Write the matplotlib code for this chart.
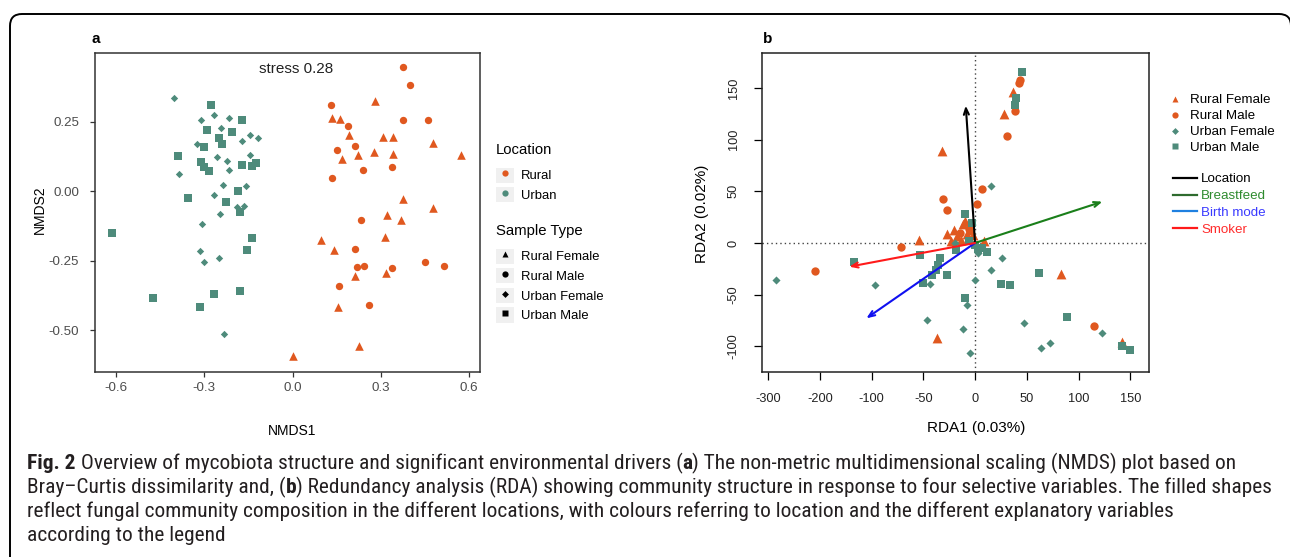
import numpy as np
import matplotlib
matplotlib.use("Agg")
import matplotlib.pyplot as plt
from matplotlib import font_manager
from matplotlib.lines import Line2D
from matplotlib.patches import Rectangle, FancyBboxPatch
from matplotlib.legend_handler import HandlerTuple
from matplotlib.transforms import IdentityTransform

RURAL = "#E0581F"
URBAN = "#4E8B7B"
FONT = "Liberation Sans"

# ---- panel a: NMDS ----
nmds_rf_x = [0.282, 0.134, 0.162, 0.191, 0.308, 0.340, 0.476, 0.221, 0.278, 0.340, 0.169, 0.573,
             0.377, 0.476, 0.320, 0.370, 0.096, 0.140, 0.314, 0.211, 0.317, 0.154, 0.225, 0.003]
nmds_rf_y = [0.325, 0.263, 0.261, 0.201, 0.196, 0.195, 0.174, 0.132, 0.143, 0.133, 0.117, 0.129,
             -0.028, -0.060, -0.085, -0.103, -0.175, -0.212, -0.166, -0.304, -0.296, -0.418, -0.558, -0.593]
nmds_rm_x = [0.374, 0.398, 0.130, 0.189, 0.377, 0.461, 0.212, 0.152, 0.338, 0.240,
             0.134, 0.232, 0.212, 0.220, 0.244, 0.338, 0.451, 0.516, 0.157, 0.259]
nmds_rm_y = [0.448, 0.382, 0.310, 0.236, 0.257, 0.257, 0.162, 0.149, 0.089, 0.078,
             0.048, -0.105, -0.207, -0.273, -0.268, -0.275, -0.255, -0.270, -0.341, -0.410]
nmds_uf_x = [-0.404, -0.310, -0.268, -0.217, -0.243, -0.325, -0.171, -0.144, -0.119, -0.257, -0.223,
             -0.144, -0.217, -0.386, -0.237, -0.268, -0.157, -0.246, -0.189, -0.164, -0.308, -0.314,
             -0.300, -0.251, -0.234]
nmds_uf_y = [0.337, 0.257, 0.276, 0.263, 0.227, 0.171, 0.181, 0.203, 0.191, 0.124, 0.109,
             0.131, 0.078, 0.063, 0.023, -0.013, 0.019, -0.082, -0.058, -0.054, -0.119, -0.216,
             -0.256, -0.239, -0.513]
nmds_um_x = [-0.277, -0.171, -0.291, -0.206, -0.250, -0.239, -0.302, -0.390, -0.310, -0.300, -0.284,
             -0.173, -0.139, -0.126, -0.356, -0.187, -0.225, -0.178, -0.137, -0.154, -0.614, -0.476,
             -0.266, -0.180, -0.316]
nmds_um_y = [0.311, 0.258, 0.220, 0.214, 0.191, 0.171, 0.161, 0.127, 0.105, 0.087, 0.072,
             0.096, 0.091, 0.103, -0.024, 0.001, -0.040, -0.073, -0.169, -0.213, -0.149, -0.385,
             -0.369, -0.359, -0.418]
nmds_xticks = [-0.6, -0.3, 0.0, 0.3, 0.6]
nmds_yticks = [0.25, 0.00, -0.25, -0.50]

# ---- panel b: RDA ----
rda_rf_x = [-32, -37, -54, 9, 28, 37, 83, 142, -20, -12, -5, -23, -14, -8, -17, -2, -27, -10]
rda_rf_y = [89, -92, 3, 2, 125, 146, -30, -96, 13, 18, 13, 2, 3, 9, 7, 8, 9, 21]
rda_rm_x = [-210, -72, -31, -27, 7, 2, 31, 39, 42, 43, 115, -15, -6]
rda_rm_y = [-27, -4, 43, 32, 52, 38, 104, 128, 155, 158, -80, 10, 14]
rda_uf_x = [-284, -97, -46, -12, -5, -8, 0, 15, 15, 26, 47, 64, 72, 123, 3, -19, -44]
rda_uf_y = [-36, -41, -75, -83, -107, -60, -36, 55, -26, -15, -78, -102, -97, -87, -10, 0, -40]
rda_um_x = [-133, -53, -50, -42, -38, -36, -34, -27, -10, -3, -18, -6, 0, 3, 7, 12, -10,
            45, 39, 40, 62, 25, 34, 89, 142, 150]
rda_um_y = [-18, -12, -39, -31, -26, -21, -15, -31, 28, 19, -7, 2, -2, -6, -5, -9, -53,
            166, 134, 140, -29, -40, -41, -72, -100, -104]
arrow_names = ["Location", "Breastfeed", "Birth mode", "Smoker"]
arrow_x = [-9, 123, -110, -143]
arrow_y = [133, 40, -73, -23]
arrow_colors = ["#000000", "#1A7F1A", "#1010F0", "#FF1A1A"]
legend_line_colors = ["#000000", "#2E6B2E", "#1F80E0", "#FF1A1A"]
legend_text_colors = ["#000000", "#2E8B2E", "#3A3AFF", "#FF2B2B"]
rda_xticks = [-300, -200, -100, -50, 0, 50, 100, 150]
rda_yticks = [150, 100, 50, 0, -50, -100]

caption = [
    [("Fig. 2", True), (" Overview of mycobiota structure and significant environmental drivers (", False),
     ("a", True), (") The non-metric multidimensional scaling (NMDS) plot based on", False)],
    [("Bray\u2013Curtis dissimilarity and, (", False), ("b", True),
     (") Redundancy analysis (RDA) showing community structure in response to four selective variables. The filled shapes", False)],
    [("reflect fungal community composition in the different locations, with colours referring to location and the different explanatory variables", False)],
    [("according to the legend", False)],
]

plt.rcParams['font.family'] = [FONT, 'DejaVu Sans']

W, H = 1290, 557
fig = plt.figure(figsize=(W / 100, H / 100), dpi=100)


def px_rect(l, t, r, b):
    return [l / W, 1 - b / H, (r - l) / W, (b - t) / H]


# rounded frame
fig.patches.append(FancyBboxPatch((10, -30), 1281, 573, boxstyle="round,pad=0,rounding_size=12",
                                  transform=IdentityTransform(), facecolor="none",
                                  edgecolor="black", lw=1.4))

# ---------- panel a ----------
ax = fig.add_axes(px_rect(95, 53, 480, 372))
ax.scatter(nmds_rf_x, nmds_rf_y, marker="^", s=38, color=RURAL, linewidths=0)
ax.scatter(nmds_rm_x, nmds_rm_y, marker="o", s=28, color=RURAL, linewidths=0)
ax.scatter(nmds_uf_x, nmds_uf_y, marker="D", s=14, color=URBAN, linewidths=0)
ax.scatter(nmds_um_x, nmds_um_y, marker="s", s=29, color=URBAN, linewidths=0)
ax.text(0.012, 0.439, "stress 0.28", ha="center", va="center", fontsize=11, color="#222222")
ax.set_xlim(-0.672, 0.6375)
ax.set_ylim(-0.651, 0.498)
ax.set_xticks(nmds_xticks)
ax.set_xticklabels([f"{v:.1f}" for v in nmds_xticks])
ax.set_yticks(nmds_yticks)
ax.set_yticklabels([f"{v:.2f}" for v in nmds_yticks])
for sp in ax.spines.values():
    sp.set_color("#333333")
    sp.set_linewidth(1.1)
ax.tick_params(direction="out", length=3.5, width=0.9, color="#333333",
               labelcolor="#4D4D4D", labelsize=9.6)
ax.tick_params(axis="y", pad=8)
ax.tick_params(axis="x", pad=4)
ax.set_xlabel("NMDS1", fontsize=10)
ax.set_ylabel("NMDS2", fontsize=10)
ax.xaxis.set_label_coords((292 - 95) / 385, (372 - 431) / 319)
ax.xaxis.label.set_va("center")
ax.yaxis.set_label_coords((40 - 95) / 385, (372 - 210) / 319)
ax.yaxis.label.set_va("center")

key_bg = "#F0F0F0"


def keyed(h):
    return (Rectangle((0, 0), 1, 1, facecolor=key_bg, edgecolor="none"), h)


loc_handles = [keyed(Line2D([], [], ls="none", marker="o", ms=4.5, mfc=c, mec="none"))
               for c in (RURAL, URBAN)]
type_handles = [keyed(Line2D([], [], ls="none", marker=m, ms=ms, mfc="black", mec="none"))
                for m, ms in (("^", 5), ("o", 4.5), ("D", 3.5), ("s", 4.5))]
leg_kw = dict(loc="upper left", bbox_transform=fig.transFigure, frameon=False, fontsize=9.4,
              handlelength=1.4, handleheight=1.4, handletextpad=0.5, labelspacing=0.35,
              borderpad=0, borderaxespad=0,
              handler_map={tuple: HandlerTuple(ndivide=1, pad=0)})
fig.text(496 / W, 1 - 150 / H, "Location", ha="left", va="center", fontsize=10.7)
leg1 = fig.legend(loc_handles, ["Rural", "Urban"], bbox_to_anchor=(496 / W, 1 - 167.5 / H), **leg_kw)
fig.text(496 / W, 1 - 231 / H, "Sample Type", ha="left", va="center", fontsize=10.7)
leg2 = fig.legend(type_handles, ["Rural Female", "Rural Male", "Urban Female", "Urban Male"],
                  bbox_to_anchor=(496 / W, 1 - 248.5 / H), **leg_kw)

fig.text(96 / W, 1 - 39 / H, "a", ha="center", va="center", fontsize=11, fontweight="bold")

# ---------- panel b ----------
bx = fig.add_axes(px_rect(762, 53, 1149, 372))


def fwd(x):
    x = np.asarray(x, dtype=float)
    return np.where(x >= -100, x, -100 + (x + 100) / 2)


def inv(t):
    t = np.asarray(t, dtype=float)
    return np.where(t >= -100, t, -100 + 2 * (t + 100))


bx.set_xscale("function", functions=(fwd, inv))
bx.axhline(0, color="#444444", lw=1.0, ls=(0, (1, 2.2)), zorder=1)
bx.axvline(0, color="#444444", lw=1.0, ls=(0, (1, 2.2)), zorder=1)
bx.scatter(rda_rf_x, rda_rf_y, marker="^", s=50, color=RURAL, linewidths=0, zorder=2)
bx.scatter(rda_rm_x, rda_rm_y, marker="o", s=36, color=RURAL, linewidths=0, zorder=2)
bx.scatter(rda_uf_x, rda_uf_y, marker="D", s=17, color=URBAN, linewidths=0, zorder=3)
bx.scatter(rda_um_x, rda_um_y, marker="s", s=38, color=URBAN, linewidths=0, zorder=3)
for x, y, c in zip(arrow_x, arrow_y, arrow_colors):
    bx.annotate("", xy=(x, y), xytext=(0, 0),
                arrowprops=dict(arrowstyle="->,head_length=0.45,head_width=0.18",
                                color=c, lw=1.5, shrinkA=0, shrinkB=0), zorder=4)
bx.set_xlim(-311.6, 168)
bx.set_ylim(-125, 184)
bx.set_xticks(rda_xticks)
bx.set_xticklabels([str(v) for v in rda_xticks])
bx.xaxis.set_minor_locator(matplotlib.ticker.NullLocator())
bx.set_yticks(rda_yticks)
bx.set_yticklabels([str(v) for v in rda_yticks], rotation=90, va="center")
for sp in bx.spines.values():
    sp.set_color("#222222")
    sp.set_linewidth(1.1)
bx.tick_params(direction="out", length=6, width=0.9, labelsize=9.2, labelcolor="#222222")
bx.tick_params(axis="x", pad=9)
bx.tick_params(axis="y", pad=10)
bx.set_xlabel("RDA1 (0.03%)", fontsize=11)
bx.set_ylabel("RDA2 (0.02%)", fontsize=11)
bx.xaxis.set_label_coords((976 - 762) / 387, (372 - 428) / 319)
bx.xaxis.label.set_va("center")
bx.yaxis.set_label_coords((702 - 762) / 387, (372 - 214) / 319)
bx.yaxis.label.set_va("center")

mk_handles = [Line2D([], [], ls="none", marker=m, ms=ms, mfc=c, mec="none")
              for m, ms, c in (("^", 5, RURAL), ("o", 4.5, RURAL), ("D", 3.5, URBAN), ("s", 4.5, URBAN))]
leg3 = fig.legend(mk_handles, ["Rural Female", "Rural Male", "Urban Female", "Urban Male"],
                  loc="upper left", bbox_to_anchor=(1170 / W, 1 - 94 / H), bbox_transform=fig.transFigure,
                  frameon=False, fontsize=9.6, handlelength=0.8, handletextpad=0.7,
                  labelspacing=0.27, borderpad=0, borderaxespad=0)
ln_handles = [Line2D([], [], color=c, lw=1.6) for c in legend_line_colors]
leg4 = fig.legend(ln_handles, arrow_names, loc="upper left", bbox_to_anchor=(1173 / W, 1 - 173 / H),
                  bbox_transform=fig.transFigure, frameon=False, fontsize=9.6, handlelength=1.8,
                  handletextpad=0.3, labelspacing=0.34, borderpad=0, borderaxespad=0)
for t, c in zip(leg4.get_texts(), legend_text_colors):
    t.set_color(c)

fig.text(768 / W, 1 - 39 / H, "b", ha="center", va="center", fontsize=11, fontweight="bold")

# ---------- caption ----------
names = {f.name for f in font_manager.fontManager.ttflist}
cap_font = "Liberation Sans"
for cand in ("Liberation Sans Narrow", "Roboto Condensed", "Open Sans Condensed", "DejaVu Sans Condensed"):
    if cand in names:
        cap_font = cand
        break
renderer = fig.canvas.get_renderer()


def seg_width(segs, size):
    w = 0
    for s, bold in segs:
        t = fig.text(0, 0, s, fontsize=size, family=cap_font, fontweight="bold" if bold else "normal",
                     transform=IdentityTransform())
        w += t.get_window_extent(renderer).width
        t.remove()
    return w


size = 10.0
size = size * 1238 / seg_width(caption[1], size)
baselines = [469, 493, 517, 541]
for segs, base in zip(caption, baselines):
    x = 27
    for s, bold in segs:
        t = fig.text(x, H - base, s, fontsize=size, family=cap_font, color="#231F20",
                     fontweight="bold" if bold else "normal", va="baseline",
                     transform=IdentityTransform())
        x += t.get_window_extent(renderer).width

fig.savefig("out.png", dpi=100)
